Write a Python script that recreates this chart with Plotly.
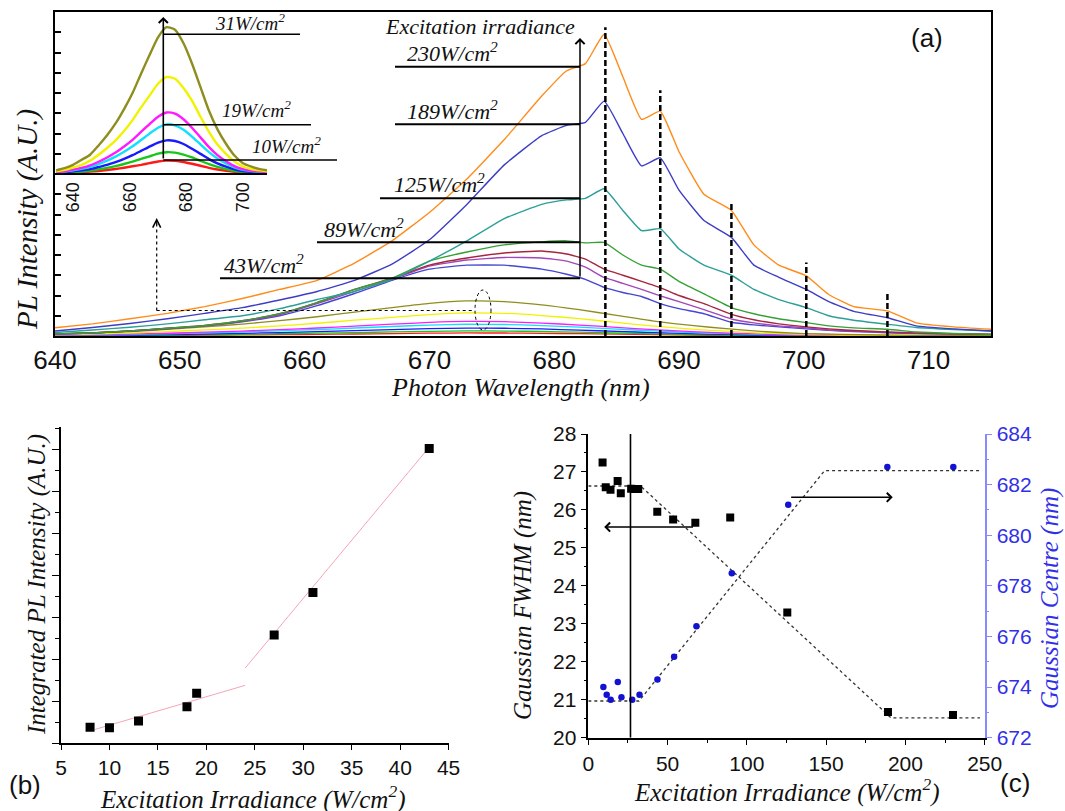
import plotly.graph_objects as go

# ---------------- panel (a): PL spectra ----------------
WL = [640, 643, 646, 649, 652, 655, 658, 661, 664, 667, 670, 673, 676, 679, 681,
      682.5, 684, 685.5, 687, 688.5, 690, 692, 694.2, 696, 698, 700.2, 702, 704,
      706.7, 709, 712, 715]
PL_230 = [0.41, 0.6, 0.85, 1.12, 1.45, 1.85, 2.3, 2.75, 3.6, 4.7, 6.1, 7.75, 9.7, 11.85, 13.1,
          13.45, 14.9, 12.8, 10.7, 11.1, 9.1, 7.0, 6.2, 4.5, 3.5, 2.97, 2.05, 1.45,
          1.24, 0.65, 0.45, 0.33]
PL_189 = [0.25, 0.42, 0.62, 0.85, 1.12, 1.4, 1.78, 2.2, 2.75, 3.55, 4.75, 6.5, 8.45, 9.9, 10.4,
          10.55, 11.6, 10.0, 8.4, 8.8, 7.2, 5.7, 4.87, 3.5, 2.9, 2.3, 1.7, 1.22,
          0.9, 0.5, 0.35, 0.25]
PL_125 = [0.17, 0.3, 0.43, 0.6, 0.8, 1.0, 1.35, 1.8, 2.2, 2.8, 3.7, 4.7, 5.8, 6.5, 6.72,
          6.8, 7.27, 6.2, 5.2, 5.3, 4.3, 3.5, 3.0, 2.3, 1.8, 1.4, 1.0, 0.78,
          0.58, 0.42, 0.32, 0.25]
PL_89 = [0.1, 0.15, 0.25, 0.38, 0.52, 0.75, 1.1, 1.65, 2.3, 2.85, 3.7, 4.15, 4.5, 4.65, 4.7,
         4.6, 4.62, 4.0, 3.5, 3.3, 2.7, 2.08, 1.4, 1.1, 0.85, 0.66, 0.5, 0.4,
         0.33, 0.2, 0.12, 0.08]
PL_67 = [0.1, 0.15, 0.25, 0.38, 0.52, 0.75, 1.1, 1.65, 2.3, 2.85, 3.5, 3.85, 4.1, 4.2, 4.05,
         3.8, 3.3, 3.0, 2.7, 2.39, 2.0, 1.6, 1.07, 0.8, 0.6, 0.45, 0.35, 0.27,
         0.2, 0.15, 0.11, 0.08]
PL_53 = [0.1, 0.15, 0.25, 0.37, 0.5, 0.72, 1.05, 1.6, 2.2, 2.8, 3.45, 3.75, 3.88, 3.85, 3.7,
         3.4, 2.89, 2.6, 2.3, 1.98, 1.7, 1.3, 0.84, 0.65, 0.5, 0.4, 0.3, 0.24,
         0.18, 0.13, 0.1, 0.08]
PL_43 = [0.1, 0.15, 0.24, 0.36, 0.5, 0.7, 1.0, 1.5, 2.1, 2.75, 3.3, 3.5, 3.5, 3.3, 3.05,
         2.8, 2.4, 2.15, 1.95, 1.6, 1.35, 1.1, 0.68, 0.55, 0.45, 0.35, 0.28, 0.22,
         0.16, 0.12, 0.1, 0.08]

WL_LOW = [634, 637, 640, 643, 646, 649, 652, 655, 658, 661, 664, 667, 670, 673, 676, 679,
          682, 685, 688, 691, 694, 697, 700, 703, 706, 709, 712, 715]
PL_31 = [0.035, 0.06, 0.10, 0.16, 0.22, 0.33, 0.45, 0.59, 0.76, 0.95, 1.18, 1.40, 1.61, 1.73,
         1.70, 1.54, 1.30, 1.02, 0.74, 0.52, 0.35, 0.21, 0.12, 0.08, 0.05, 0.035, 0.026, 0.017]
PL_27 = [0.023, 0.04, 0.068, 0.10, 0.15, 0.22, 0.30, 0.39, 0.50, 0.63, 0.78, 0.92, 1.06, 1.14,
         1.12, 1.01, 0.86, 0.67, 0.49, 0.34, 0.23, 0.14, 0.08, 0.05, 0.034, 0.023, 0.017, 0.011]
PL_19 = [0.014, 0.025, 0.043, 0.065, 0.094, 0.137, 0.187, 0.245, 0.317, 0.396, 0.49, 0.583, 0.67,
         0.72, 0.706, 0.64, 0.54, 0.425, 0.31, 0.216, 0.144, 0.086, 0.05, 0.032, 0.022, 0.014,
         0.011, 0.007]
PL_18 = [0.012, 0.02, 0.035, 0.052, 0.075, 0.11, 0.15, 0.197, 0.255, 0.32, 0.394, 0.47, 0.54,
         0.58, 0.568, 0.516, 0.435, 0.342, 0.25, 0.174, 0.116, 0.07, 0.04, 0.026, 0.017, 0.012,
         0.009, 0.006]
PL_13 = [0.008, 0.014, 0.023, 0.035, 0.05, 0.074, 0.10, 0.133, 0.17, 0.215, 0.265, 0.316, 0.363,
         0.39, 0.382, 0.347, 0.29, 0.23, 0.168, 0.117, 0.078, 0.047, 0.027, 0.018, 0.012, 0.008,
         0.006, 0.004]
PL_10 = [0.005, 0.009, 0.015, 0.022, 0.032, 0.047, 0.065, 0.085, 0.11, 0.138, 0.17, 0.2, 0.233,
         0.25, 0.245, 0.222, 0.188, 0.148, 0.108, 0.075, 0.05, 0.03, 0.018, 0.011, 0.008, 0.005,
         0.004, 0.003]
PL_8 = [0.003, 0.005, 0.009, 0.013, 0.02, 0.028, 0.039, 0.051, 0.066, 0.083, 0.10, 0.12, 0.14,
        0.15, 0.147, 0.134, 0.113, 0.089, 0.065, 0.045, 0.03, 0.018, 0.011, 0.007, 0.005, 0.003,
        0.002, 0.002]

PEAK_WL = [684.1, 688.5, 694.2, 700.2, 706.7]
PEAK_TOP = [15.25, 12.13, 6.6, 3.63, 2.07]

A_XTICKS = [640, 650, 660, 670, 680, 690, 700, 710]
INSET_XTICKS = [640, 660, 680, 700]

# ---------------- panel (b) ----------------
IRR_B = [8, 10, 13, 18, 19, 27, 31, 43]
INT_B = [0.38, 0.37, 0.53, 0.87, 1.19, 2.58, 3.59, 7.02]
FIT1_X = [8.5, 24]
FIT1_Y = [0.33, 1.38]
FIT2_X = [24, 42.6]
FIT2_Y = [1.79, 6.94]
B_XTICKS = [5, 10, 15, 20, 25, 30, 35, 40, 45]

# ---------------- panel (c) ----------------
IRR_FWHM = [9, 11, 14, 18.5, 20.5, 27, 29.5, 31.5, 43.5, 53.5, 67.5, 89.5, 125.5, 189, 230]
FWHM = [27.25, 26.6, 26.53, 26.76, 26.44, 26.56, 26.55, 26.55, 25.95, 25.75, 25.66, 25.8,
        23.3, 20.68, 20.6]
IRR_CEN = [9.5, 11.6, 14.1, 18.6, 20.9, 27.7, 32.3, 43.6, 54.1, 68.2, 90.5, 126.1, 188.6, 230.2]
CENTRE = [674.0, 673.7, 673.5, 674.2, 673.6, 673.5, 673.7, 674.3, 675.2, 676.4, 678.5, 681.2,
          682.7, 682.7]
FWHM_FIT_X = [0, 33, 191, 247]
FWHM_FIT_Y = [26.63, 26.63, 20.52, 20.52]
CEN_FIT_X = [0, 32, 149, 247]
CEN_FIT_Y = [673.45, 673.45, 682.55, 682.55]

W, H = 1065, 811
SERIF = "Liberation Serif, Times New Roman, serif"
SANS = "Liberation Sans, Arial, sans-serif"
BLUE_AX = "#3030e8"


def px(x):
    return x / W


def py(y):
    return 1 - y / H


fig = go.Figure()

main_series = [
    (PL_43, "#4646d2"), (PL_53, "#a347b8"), (PL_67, "#a5263f"), (PL_89, "#35a035"),
    (PL_125, "#2b9f98"), (PL_189, "#3d3dc4"), (PL_230, "#ff8c1a"),
]
low_series = [
    (PL_8, "#ff1a1a"), (PL_10, "#16c816"), (PL_13, "#1a1aff"), (PL_18, "#10e0ff"),
    (PL_19, "#ff1aff"), (PL_27, "#f2f200"), (PL_31, "#8e8e1e"),
]
for ys, col in low_series:
    fig.add_trace(go.Scatter(x=WL_LOW, y=ys, mode="lines",
                             line=dict(color=col, width=1.3, shape="spline", smoothing=0.6),
                             xaxis="x", yaxis="y", hoverinfo="skip"))
for ys, col in main_series:
    fig.add_trace(go.Scatter(x=WL, y=ys, mode="lines",
                             line=dict(color=col, width=1.4, shape="spline", smoothing=0.4),
                             xaxis="x", yaxis="y", hoverinfo="skip"))

pk_x, pk_y = [], []
for w, t in zip(PEAK_WL, PEAK_TOP):
    pk_x += [w, w, None]
    pk_y += [0, t, None]
fig.add_trace(go.Scatter(x=pk_x, y=pk_y, mode="lines", line=dict(color="black", width=2.5, dash="6px,3px"),
                         xaxis="x", yaxis="y", hoverinfo="skip"))

for ys, col in low_series:
    fig.add_trace(go.Scatter(x=WL_LOW, y=ys, mode="lines",
                             line=dict(color=col, width=2.4, shape="spline", smoothing=0.6),
                             xaxis="x2", yaxis="y2", hoverinfo="skip"))

fig.add_trace(go.Scatter(x=FIT1_X, y=FIT1_Y, mode="lines", line=dict(color="#f3a6b4", width=1),
                         xaxis="x3", yaxis="y3", hoverinfo="skip"))
fig.add_trace(go.Scatter(x=FIT2_X, y=FIT2_Y, mode="lines", line=dict(color="#f3a6b4", width=1),
                         xaxis="x3", yaxis="y3", hoverinfo="skip"))
fig.add_trace(go.Scatter(x=IRR_B, y=INT_B, mode="markers", marker=dict(symbol="square", size=9, color="black"),
                         xaxis="x3", yaxis="y3", hoverinfo="skip"))

fig.add_trace(go.Scatter(x=FWHM_FIT_X, y=FWHM_FIT_Y, mode="lines", line=dict(color="#333", width=1.3, dash="dot"),
                         xaxis="x4", yaxis="y4", hoverinfo="skip"))
fig.add_trace(go.Scatter(x=IRR_FWHM, y=FWHM, mode="markers", marker=dict(symbol="square", size=8, color="black"),
                         xaxis="x4", yaxis="y4", hoverinfo="skip"))
fig.add_trace(go.Scatter(x=CEN_FIT_X, y=CEN_FIT_Y, mode="lines", line=dict(color="#333", width=1.3, dash="dot"),
                         xaxis="x4", yaxis="y5", hoverinfo="skip"))
fig.add_trace(go.Scatter(x=IRR_CEN, y=CENTRE, mode="markers", marker=dict(symbol="circle", size=6.5, color="#1212d0"),
                         xaxis="x4", yaxis="y5", hoverinfo="skip"))

ax_common = dict(showgrid=False, zeroline=False, linecolor="black", tickcolor="black", automargin=False)

fig.update_layout(
    width=W, height=H, autosize=False, margin=dict(l=0, r=0, t=0, b=0, pad=0),
    paper_bgcolor="white", plot_bgcolor="rgba(0,0,0,0)", showlegend=False,
    font=dict(family=SANS, color="#111"),
    xaxis=dict(domain=[px(55), px(991)], anchor="y", range=[640, 715], showline=True, linewidth=2,
               mirror=True, ticks="", tickvals=A_XTICKS, tickfont=dict(size=26, family=SANS), **ax_common),
    yaxis=dict(domain=[py(336), py(12)], anchor="x", range=[0, 16], showline=True, linewidth=2, mirror=True,
               ticks="inside", dtick=1, ticklen=6, tickwidth=1.5, showticklabels=False, **ax_common),
    xaxis2=dict(domain=[px(55), px(267)], anchor="y2", range=[633.6, 708.5], showline=True, linewidth=1.5,
                ticks="", tickvals=INSET_XTICKS, tickangle=-90, tickfont=dict(size=18, family=SANS), **ax_common),
    yaxis2=dict(domain=[py(173.3), py(12)], anchor="x2", range=[0, 1.91], visible=False, automargin=False),
    xaxis3=dict(domain=[px(61), px(448.6)], anchor="y3", range=[5, 45], showline=True, linewidth=1.5,
                ticks="outside", ticklen=5, tickvals=B_XTICKS, tickfont=dict(size=21, family=SANS), **ax_common),
    yaxis3=dict(domain=[py(743.3), py(426.7)], anchor="x3", range=[0, 7.54], showline=True, linewidth=1.5,
                ticks="outside", dtick=1, ticklen=7, showticklabels=False,
                minor=dict(dtick=0.5, ticklen=4, ticks="outside", tickcolor="black"), **ax_common),
    xaxis4=dict(domain=[px(588.3), px(984.7)], anchor="y4", range=[0, 250], showline=True, linewidth=1.5,
                ticks="outside", dtick=50, ticklen=6, tickfont=dict(size=21, family=SANS),
                minor=dict(dtick=25, ticklen=4, ticks="outside", tickcolor="black"), **ax_common),
    yaxis4=dict(domain=[py(737.7), py(434)], anchor="x4", range=[20, 28], showline=True, linewidth=1.5,
                ticks="outside", dtick=1, ticklen=6, tickfont=dict(size=21, family=SANS),
                minor=dict(dtick=0.5, ticklen=3, ticks="outside", tickcolor="black"), **ax_common),
    yaxis5=dict(overlaying="y4", side="right", anchor="x4", range=[672, 684], showline=True, linewidth=1.5,
                linecolor="#8a8aff", ticks="outside", dtick=2, ticklen=6, tickcolor="#8a8aff",
                tickfont=dict(size=21, family=SANS, color=BLUE_AX), showgrid=False, zeroline=False,
                automargin=False,
                minor=dict(dtick=1, ticklen=3, ticks="outside", tickcolor="#8a8aff")),
)

shapes = []
ann = []


def hline(x0, x1, y, width=2, dash=None, color="black"):
    shapes.append(dict(type="line", xref="paper", yref="paper", x0=px(x0), x1=px(x1), y0=py(y), y1=py(y),
                       line=dict(color=color, width=width, dash=dash)))


def vline(x, y0, y1, width=2, dash=None, color="black"):
    shapes.append(dict(type="line", xref="paper", yref="paper", x0=px(x), x1=px(x), y0=py(y0), y1=py(y1),
                       line=dict(color=color, width=width, dash=dash)))


def text(x, y, s, size, xanchor="left", yanchor="middle", family=SERIF, color="#111", angle=0):
    ann.append(dict(xref="paper", yref="paper", x=px(x), y=py(y), text=s, showarrow=False,
                    xanchor=xanchor, yanchor=yanchor, textangle=angle,
                    font=dict(family=family, size=size, color=color)))


def arrow_up(x, y_head, length, head=4, width=1.5, size=1.2):
    ann.append(dict(xref="paper", yref="paper", x=px(x), y=py(y_head), ax=0, ay=length, text="",
                    showarrow=True, arrowhead=head, arrowwidth=width, arrowsize=size, arrowcolor="black"))


# (a) irradiance labels
for y in (66.7, 124.3):
    hline(395, 580, y)
hline(380, 580, 198.3)
hline(317, 580, 242.3)
hline(220, 580, 278.3)
arrow_up(580, 38, 240)
text(480, 27, "<i>Excitation irradiance</i>", 22, xanchor="center")
text(405, 52, "<i>230W/cm<sup>2</sup></i>", 22)
text(405, 110, "<i>189W/cm<sup>2</sup></i>", 22)
text(392, 183, "<i>125W/cm<sup>2</sup></i>", 22)
text(322, 228, "<i>89W/cm<sup>2</sup></i>", 22)
text(222, 264, "<i>43W/cm<sup>2</sup></i>", 22)

# dotted arrow linking to inset + ellipse
hline(156.7, 473, 310.5, width=1.2, dash="dot")
vline(156.7, 310.5, 224, width=1.2, dash="dot")
arrow_up(156.7, 218, 8, head=5, width=1.2, size=1.3)
shapes.append(dict(type="circle", xref="paper", yref="paper", x0=px(475), x1=px(491), y0=py(330), y1=py(290),
                   line=dict(color="black", width=1, dash="dot")))

# inset labels
hline(163.3, 300, 34.3, width=1.6)
hline(163.3, 311, 124.7, width=1.6)
hline(163.3, 337, 160, width=1.6)
arrow_up(163.3, 17, 143, head=4, width=1.6, size=1.1)
text(213, 22, "<i>31W/cm<sup>2</sup></i>", 19)
text(220, 109, "<i>19W/cm<sup>2</sup></i>", 19)
text(250, 145, "<i>10W/cm<sup>2</sup></i>", 19)

# (a) titles
text(927, 38, "(a)", 26, xanchor="center", family=SANS)
text(520, 388, "<i>Photon Wavelength (nm)</i>", 26, xanchor="center")
text(27, 220, "<i>PL Intensity (A.U.)</i>", 29, xanchor="center", angle=-90)

# (b) titles
text(25, 785, "(b)", 26, xanchor="center", family=SANS)
text(253, 797, "<i>Excitation Irradiance (W/cm<sup>2</sup>)</i>", 25, xanchor="center")
text(37, 585, "<i>Integrated PL Intensity (A.U.)</i>", 25, xanchor="center", angle=-90)

# (c) titles and guides
text(1015, 783, "(c)", 26, xanchor="center", family=SANS)
text(787, 790, "<i>Excitation Irradiance (W/cm<sup>2</sup>)</i>", 25, xanchor="center")
text(523, 606, "<i>Gaussian FWHM (nm)</i>", 25, xanchor="center", angle=-90)
text(1050, 599, "<i>Gaussian Centre (nm)</i>", 25, xanchor="center", angle=-90, color=BLUE_AX)
shapes.append(dict(type="line", xref="x4", yref="y4", x0=26.6, x1=26.6, y0=20, y1=28,
                   line=dict(color="black", width=1.6)))
ann.append(dict(xref="x4", yref="y4", axref="x4", ayref="y4", x=10, y=25.55, ax=67, ay=25.55, text="",
                showarrow=True, arrowhead=4, arrowwidth=1.6, arrowsize=1.1, arrowcolor="black"))
ann.append(dict(xref="x4", yref="y5", axref="x4", ayref="y5", x=192, y=681.5, ax=127, ay=681.5, text="",
                showarrow=True, arrowhead=4, arrowwidth=1.6, arrowsize=1.1, arrowcolor="black"))

fig.update_layout(shapes=shapes, annotations=ann)
fig.write_html("out.html", config={"displayModeBar": False})

# remove the browser's default page margin so the figure sits at the window origin
with open("out.html", "r", encoding="utf-8") as f:
    html = f.read()
html = html.replace("<head>", "<head><style>html,body{margin:0;padding:0;overflow:hidden;}</style>", 1)
with open("out.html", "w", encoding="utf-8") as f:
    f.write(html)
